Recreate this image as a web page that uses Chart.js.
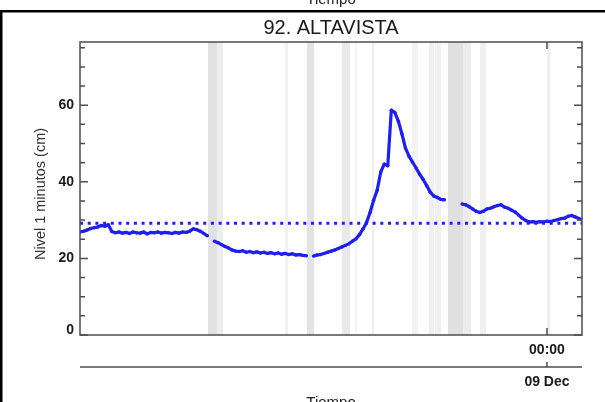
<!DOCTYPE html>
<html>
<head>
<meta charset="utf-8">
<script src="https://cdn.jsdelivr.net/npm/chart.js@4.4.1/dist/chart.umd.min.js"></script>
<style>
  html, body { margin: 0; padding: 0; background: #fff; }
  canvas { display: block; }
</style>
</head>
<body>
<canvas id="nivelChart" width="605" height="402" style="width:605px;height:402px"></canvas>
<script>
// Serie de nivel (cada 10 min), horas relativas a 00:00 del 09 Dec
const inicioHoras = -22;      // 02:00 del 08 Dec
const pasoMinutos = 10;
const finHoras = 1.65;
const nivel = [
  26.9, 27.1, 27.4, 27.8, 28.0, 28.2, 28.6, 28.4, 28.8, 27.0,
  26.7, 26.9, 26.6, 26.8, 26.5, 26.9, 26.7, 26.6, 26.9, 26.4,
  26.8, 26.7, 26.9, 26.6, 26.8, 26.7, 26.5, 26.8, 26.6, 26.9,
  26.8, 27.1, 27.7, 27.5, 27.1, 26.5, 25.9, null, 24.5, 24.1,
  23.6, 23.1, 22.7, 22.2, 21.9, 21.8, 22.0, 21.6, 21.8, 21.5,
  21.7, 21.4, 21.6, 21.3, 21.5, 21.2, 21.4, 21.1, 21.3, 21.0,
  21.2, 20.9, 21.0, 20.8, 20.7, null, 20.6, 20.9, 21.0, 21.3,
  21.6, 21.9, 22.2, 22.6, 23.0, 23.4, 23.8, 24.5, 25.1, 26.2,
  27.7, 29.4, 32.0, 35.2, 37.8, 42.5, 44.6, 44.2, 58.7, 58.1,
  55.8, 52.5, 48.8, 46.7, 45.1, 43.6, 42.0, 40.6, 39.0, 37.3,
  36.3, 35.9, 35.4, 35.3, null, null, null, null, 34.2, 34.0,
  33.5, 32.9, 32.3, 32.0, 32.3, 32.9, 33.1, 33.5, 33.8, 34.0,
  33.4, 33.1, 32.6, 32.1, 31.3, 30.5, 29.9, 29.5, 29.6, 29.4,
  29.6, 29.5, 29.7, 29.6, 29.9, 30.1, 30.4, 30.5, 31.0, 31.2,
  30.8, 30.4, 30.1
];
const nivelReferencia = 29.2;

// periodos sombreados (horas relativas)
const bandaInicio = [-15.97, -15.546, -12.342, -11.306, -9.657, -9.045, -8.244, -6.36, -5.559, -5.276, -4.664, -3.957, -3.156, 0.0];
const bandaFin    = [-15.546, -15.263, -12.201, -10.976, -9.28, -8.95, -8.15, -6.077, -5.323, -4.993, -3.957, -3.58, -2.873, 0.14];
const bandaTono   = ['#e1e1e1', '#ededed', '#f1f1f1', '#e3e3e3', '#e9e9e9', '#f5f5f5', '#efefef', '#f2f2f2', '#efefef', '#f0f0f0', '#e0e0e0', '#ececec', '#f0f0f0', '#efefef'];

const marcasY = [0, 5, 10, 15, 20, 25, 30, 35, 40, 45, 50, 55, 60, 65, 70, 75];
const etiquetasY = [0, 20, 40, 60];
const marcasX = [0];
const etiquetasX = ['00:00'];
const etiquetasFecha = ['09 Dec'];

const FUENTE = '"Liberation Sans", Arial, Helvetica, sans-serif';

const puntos = nivel.map((v, i) => ({ x: inicioHoras + i * pasoMinutos / 60, y: v }));

const marcoPlugin = {
  id: 'marco',
  beforeDatasetsDraw(chart) {
    const { ctx, chartArea: a, scales: { x } } = chart;
    ctx.save();
    ctx.beginPath();
    ctx.rect(a.left, a.top, a.right - a.left, a.bottom - a.top);
    ctx.clip();
    bandaInicio.forEach((ini, i) => {
      const x1 = x.getPixelForValue(ini);
      const x2 = x.getPixelForValue(bandaFin[i]);
      ctx.fillStyle = bandaTono[i];
      ctx.fillRect(x1, a.top, x2 - x1, a.bottom - a.top);
    });
    ctx.restore();
  },
  afterDraw(chart) {
    const { ctx, chartArea: a, scales: { x, y } } = chart;
    ctx.save();
    // caja
    ctx.strokeStyle = '#4d4d4d';
    ctx.lineWidth = 1.5;
    ctx.strokeRect(a.left, a.top, a.right - a.left, a.bottom - a.top);

    // marcas eje Y (hacia dentro, ambos lados)
    ctx.beginPath();
    marcasY.forEach(v => {
      const py = y.getPixelForValue(v);
      const len = etiquetasY.includes(v) ? 8 : 5;
      ctx.moveTo(a.left, py); ctx.lineTo(a.left + len, py);
      ctx.moveTo(a.right, py); ctx.lineTo(a.right - len, py);
    });
    marcasX.forEach(v => {
      const px = x.getPixelForValue(v);
      ctx.moveTo(px, a.bottom); ctx.lineTo(px, a.bottom - 7);
      ctx.moveTo(px, a.top); ctx.lineTo(px, a.top + 7);
    });
    ctx.stroke();

    // etiquetas Y
    ctx.fillStyle = '#1a1a1a';
    ctx.font = 'bold 14px ' + FUENTE;
    ctx.textAlign = 'right';
    ctx.textBaseline = 'middle';
    etiquetasY.forEach(v => {
      let py = y.getPixelForValue(v);
      if (v === 0) py -= 5;
      ctx.fillText(String(v), a.left - 6, py);
    });

    // etiquetas X
    ctx.textAlign = 'center';
    marcasX.forEach((v, i) => {
      const px = x.getPixelForValue(v);
      ctx.fillText(etiquetasX[i], px, 350);
      ctx.fillText(etiquetasFecha[i], px, 382);
    });

    // segundo eje (fecha)
    ctx.beginPath();
    ctx.moveTo(a.left, 367); ctx.lineTo(a.right, 367);
    marcasX.forEach(v => {
      const px = x.getPixelForValue(v);
      ctx.moveTo(px, 367); ctx.lineTo(px, 362);
    });
    ctx.stroke();

    // titulo
    ctx.font = '20px ' + FUENTE;
    ctx.textBaseline = 'alphabetic';
    ctx.fillStyle = '#1a1a1a';
    ctx.fillText('92. ALTAVISTA', (a.left + a.right) / 2, 34);

    // titulos de ejes
    ctx.font = '15px ' + FUENTE;
    ctx.fillStyle = '#222';
    ctx.fillText('Tiempo', (a.left + a.right) / 2, 407);
    ctx.fillText('Tiempo', (a.left + a.right) / 2, 4);

    ctx.save();
    ctx.translate(41, 194);
    ctx.rotate(-Math.PI / 2);
    ctx.font = '14.5px ' + FUENTE;
    ctx.fillStyle = '#333';
    ctx.textBaseline = 'middle';
    ctx.fillText('Nivel 1 minutos (cm)', 0, 0);
    ctx.restore();

    // marco del panel
    ctx.fillStyle = '#000';
    ctx.fillRect(0, 10, 605, 2.5);
    ctx.fillRect(0, 10, 2.5, 392);
    ctx.restore();
  }
};

new Chart(document.getElementById('nivelChart').getContext('2d'), {
  type: 'line',
  data: {
    datasets: [
      {
        label: 'Nivel',
        data: puntos,
        borderColor: '#1e1ef5',
        backgroundColor: '#1e1ef5',
        borderWidth: 3.2,
        pointRadius: 1.7,
        pointBorderWidth: 0,
        pointHoverRadius: 0,
        spanGaps: false,
        tension: 0,
        borderJoinStyle: 'round'
      },
      {
        label: 'Referencia',
        data: [{ x: inicioHoras, y: nivelReferencia }, { x: finHoras, y: nivelReferencia }],
        borderColor: '#1e1ef5',
        borderWidth: 3,
        borderDash: [3, 4.7],
        pointRadius: 0,
        tension: 0
      }
    ]
  },
  options: {
    responsive: false,
    animation: false,
    devicePixelRatio: 1,
    parsing: true,
    layout: { padding: { left: 80, right: 23, top: 42, bottom: 67 } },
    scales: {
      x: { type: 'linear', min: inicioHoras, max: finHoras, display: false },
      y: { min: 0, max: 76.5, display: false }
    },
    plugins: {
      legend: { display: false },
      tooltip: { enabled: false },
      title: { display: false }
    }
  },
  plugins: [marcoPlugin]
});
</script>
</body>
</html>
